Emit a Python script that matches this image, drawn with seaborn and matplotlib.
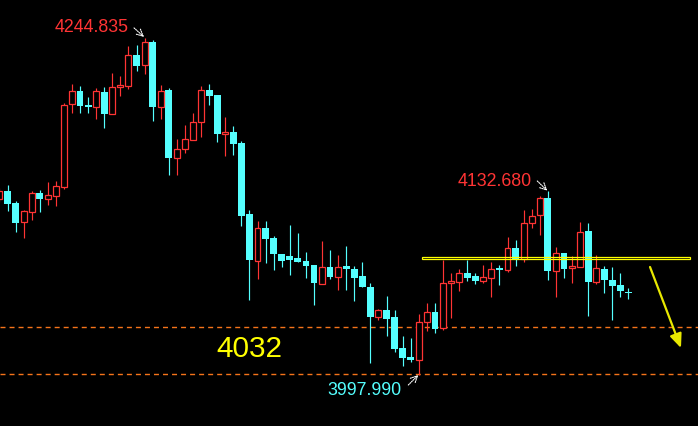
import matplotlib
matplotlib.use("Agg")
import matplotlib.pyplot as plt
import seaborn as sns
import numpy as np
import pandas as pd
from matplotlib.patches import Rectangle

# ---- data ----
opens = [4126.8, 4132.7, 4123.9, 4110.2, 4117.5, 4131.2, 4127.0, 4129.2, 4135.8, 4196.2,
         4206.0, 4195.7, 4194.5, 4205.2, 4189.3, 4208.7, 4209.9, 4232.4, 4225.3, 4241.9,
         4194.5, 4206.7, 4157.1, 4163.2, 4169.8, 4183.0, 4206.7, 4203.0, 4174.7, 4175.9,
         4167.9, 4115.8, 4081.6, 4105.5, 4098.2, 4086.7, 4085.0, 4083.5, 4081.3, 4078.4,
         4064.7, 4077.0, 4069.8, 4077.7, 4075.5, 4070.4, 4062.3, 4040.5, 4045.4, 4040.3,
         4017.6, 4011.0, 4009.0, 4036.6, 4044.0, 4032.4, 4065.2, 4066.2, 4072.5, 4070.4,
         4066.9, 4068.9, 4075.5, 4075.0, 4090.9, 4082.8, 4109.0, 4114.9, 4127.5, 4074.2,
         4087.2, 4076.4, 4077.2, 4103.3, 4066.2, 4075.5, 4067.6, 4063.8, 4058.8]
highs = [4134.9, 4137.1, 4125.3, 4118.7, 4132.7, 4133.4, 4139.3, 4140.0, 4197.4, 4211.1,
         4209.6, 4201.6, 4208.2, 4208.9, 4219.2, 4217.0, 4239.0, 4239.7, 4244.835, 4243.4,
         4210.4, 4208.2, 4170.8, 4181.0, 4189.8, 4209.6, 4211.1, 4203.0, 4186.9, 4180.3,
         4169.3, 4118.7, 4110.7, 4110.7, 4099.9, 4086.7, 4107.7, 4101.9, 4087.9, 4078.4,
         4096.0, 4089.4, 4085.7, 4092.3, 4077.7, 4080.6, 4065.2, 4046.2, 4055.7, 4045.4,
         4026.4, 4024.9, 4042.5, 4050.6, 4050.6, 4082.1, 4072.5, 4075.5, 4082.1, 4072.5,
         4078.4, 4080.6, 4078.4, 4098.9, 4096.7, 4118.7, 4119.5, 4129.0, 4132.68, 4091.6,
         4087.2, 4085.0, 4109.9, 4109.2, 4085.7, 4077.7, 4077.0, 4072.5, 4061.6]
lows = [4124.6, 4118.2, 4102.8, 4098.4, 4111.6, 4117.5, 4122.6, 4121.9, 4133.9, 4190.1,
        4190.1, 4190.1, 4185.7, 4179.1, 4189.3, 4202.3, 4207.7, 4220.6, 4218.7, 4184.2,
        4185.7, 4144.6, 4144.6, 4160.7, 4169.8, 4172.5, 4195.9, 4168.8, 4158.5, 4159.3,
        4107.2, 4052.8, 4068.4, 4080.1, 4075.0, 4077.2, 4071.3, 4080.8, 4069.1, 4049.1,
        4064.7, 4068.4, 4060.3, 4060.3, 4052.2, 4062.5, 4006.8, 4038.3, 4026.6, 4014.9,
        4004.6, 4007.5, 3997.99, 4030.0, 4028.8, 4031.0, 4039.8, 4059.6, 4066.9, 4064.7,
        4065.4, 4055.2, 4064.0, 4073.5, 4077.7, 4080.6, 4105.5, 4100.6, 4067.6, 4055.2,
        4069.1, 4065.4, 4077.2, 4041.2, 4064.7, 4058.1, 4038.3, 4055.2, 4053.7]
closes = [4132.7, 4123.4, 4109.4, 4118.0, 4131.2, 4127.0, 4129.7, 4136.3, 4195.7, 4206.0,
          4195.2, 4194.5, 4206.0, 4189.3, 4208.9, 4210.2, 4232.4, 4224.5, 4241.9, 4194.5,
          4206.0, 4157.1, 4163.2, 4170.8, 4183.0, 4206.7, 4202.5, 4174.7, 4175.9, 4167.3,
          4114.6, 4082.3, 4105.5, 4097.7, 4086.7, 4081.6, 4082.3, 4080.8, 4077.9, 4065.4,
          4077.0, 4069.8, 4077.0, 4075.7, 4069.1, 4062.5, 4040.5, 4045.4, 4039.0, 4017.1,
          4010.5, 4009.0, 4036.6, 4044.0, 4031.7, 4065.2, 4066.7, 4072.5, 4068.9, 4066.9,
          4069.6, 4075.5, 4075.0, 4090.9, 4082.8, 4109.2, 4114.3, 4127.5, 4074.2, 4087.2,
          4075.7, 4077.7, 4102.6, 4066.2, 4076.2, 4067.6, 4063.2, 4059.6, 4057.7]

high_label = "4244.835"
peak_label = "4132.680"
low_label = "3997.990"
level_label = "4032"
level_upper = 4032.7
level_lower = 3998.2
resistance = 4083.3

df = pd.DataFrame({"open": opens, "high": highs, "low": lows, "close": closes})
df["idx"] = np.arange(len(df))
df["up"] = df["close"] >= df["open"]

RED = "#FF3434"
CYAN = "#55FFFF"
ORANGE = "#F5741A"
YELLOW = "#FFFF00"

sns.set_theme(style="dark", rc={"axes.facecolor": "black", "figure.facecolor": "black",
                                "savefig.facecolor": "black"})
plt.rcParams["font.family"] = ["Liberation Sans", "DejaVu Sans"]

fig = plt.figure(figsize=(6.98, 4.26), dpi=100)
ax = fig.add_axes([0, 0, 1, 1])
ax.set_facecolor("black")
ax.set_xlim(0.07, 86.62)
ax.set_ylim(3960.38, 4272.68)
ax.axis("off")

px = 0.7331  # price per pixel (vertical)

# dashed support levels
for lv in (level_upper, level_lower):
    ax.axhline(lv, color=ORANGE, lw=1.0, dashes=(3.6, 2.9), zorder=1)

up = df[df["up"]]
dn = df[~df["up"]]

# wicks
ax.vlines(up["idx"], up["low"], up["high"], color=RED, lw=0.85, zorder=2)
ax.vlines(dn["idx"], dn["low"], dn["high"], color=CYAN, lw=0.85, zorder=2)

# down bodies (filled cyan)
h_dn = np.maximum(dn["open"] - dn["close"], 1.2 * px)
ax.bar(dn["idx"], h_dn, bottom=dn["close"], width=0.84, color=CYAN, linewidth=0, zorder=3)

# up bodies (hollow red)
h_up = np.maximum(up["close"] - up["open"], 1.2 * px)
ax.bar(up["idx"], h_up, bottom=up["open"], width=0.74, facecolor="black",
       edgecolor=RED, linewidth=0.9, zorder=3)

# resistance band (yellow double line)
ax.add_patch(Rectangle((52.39, resistance - 0.75), 85.63 - 52.39, 1.5,
                       facecolor="none", edgecolor=YELLOW, lw=0.9, zorder=4))

# yellow arrow
ax.annotate("", xy=(84.51, 4017.56), xytext=(80.67, 4076.95),
            arrowprops=dict(arrowstyle="-|>,head_length=0.7,head_width=0.3",
                            color="#E8E800", lw=1.6, shrinkA=0, shrinkB=0), zorder=5)

# labels
tf = dict(fontsize=12.8, va="baseline", ha="left")
ax.text(6.89, 4249.0, high_label, color=RED, **tf)
ax.text(56.82, 4136.3, peak_label, color=RED, **tf)
ax.text(40.65, 3983.1, low_label, color=CYAN, **tf)
ax.text(26.85, 4011.2, level_label, color=YELLOW, fontsize=21.4, va="baseline", ha="left")

arrow_kw = dict(arrowstyle="->,head_length=0.4,head_width=0.2", color="white", lw=0.8,
                linestyle=(0, (1, 1)), shrinkA=0, shrinkB=0)
ax.annotate("", xy=(17.93, 4245.6), xytext=(16.69, 4252.2), arrowprops=arrow_kw)
ax.annotate("", xy=(67.93, 4132.88), xytext=(66.69, 4139.99), arrowprops=arrow_kw)
ax.annotate("", xy=(51.94, 3997.77), xytext=(50.70, 3990.44), arrowprops=arrow_kw)

fig.savefig("out.png", dpi=100, facecolor="black")
